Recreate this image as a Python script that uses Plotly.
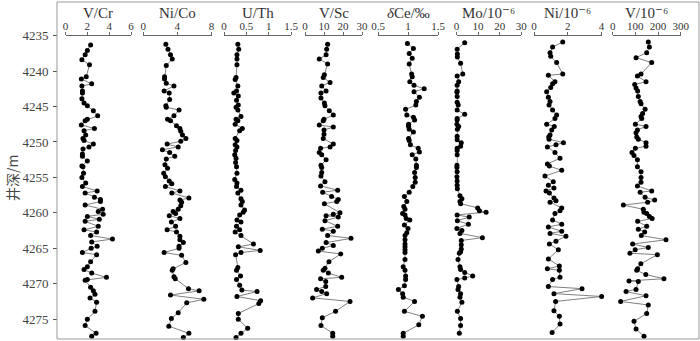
import plotly.graph_objects as go

# ---------------- data ----------------
vcr_depth = [4236.3, 4237.1, 4237.7, 4238.4, 4239.1, 4240.8, 4241.1, 4241.8, 4242.1, 4242.8,
             4243.1, 4243.9, 4244.5, 4244.9, 4245.6, 4246.3, 4246.8, 4247.0, 4247.6, 4248.1,
             4248.4, 4249.0, 4249.5, 4249.8, 4250.3, 4250.7, 4251.0, 4251.7, 4252.0, 4252.7,
             4253.4, 4253.5, 4254.4, 4255.0, 4255.8, 4256.3, 4256.9, 4257.2, 4257.8, 4258.1,
             4258.4, 4258.9, 4259.5, 4259.8, 4260.2, 4260.5, 4260.9, 4261.2, 4261.9, 4262.4,
             4262.7, 4263.2, 4263.7, 4264.1, 4264.7, 4265.0, 4265.6, 4265.9, 4266.9, 4267.6,
             4268.0, 4268.5, 4269.1, 4269.4, 4269.5, 4270.5, 4271.0, 4271.5, 4272.0, 4272.6,
             4273.9, 4275.0, 4275.9, 4277.0, 4277.4]
vcr = [2.3, 2.0, 1.8, 1.5, 2.2, 1.9, 1.45, 2.4, 1.5, 1.55,
       1.55, 1.5, 1.7, 2.0, 2.55, 2.95, 2.0, 1.8, 1.45, 2.65,
       1.7, 1.85, 1.6, 1.7, 2.55, 2.15, 1.6, 1.55, 1.55, 2.0,
       1.5, 1.6, 1.65, 1.5, 1.85, 1.55, 2.9, 1.8, 2.65, 3.2,
       3.2, 1.8, 3.4, 3.0, 3.45, 2.0, 3.1, 1.8, 3.0, 1.7,
       2.85, 2.3, 4.3, 2.4, 2.9, 2.35, 1.55, 2.85, 2.3, 2.0,
       1.7, 2.4, 3.75, 2.0, 1.8, 2.3, 2.55, 2.7, 2.25, 2.85,
       2.7, 2.0, 1.8, 2.8, 2.4]

nico_depth = [4236.2, 4236.9, 4237.7, 4238.3, 4239.2, 4240.8, 4241.1, 4241.7, 4242.1, 4242.8,
              4243.1, 4244.0, 4244.9, 4245.1, 4245.5, 4246.3, 4246.8, 4247.0, 4247.7, 4248.1,
              4248.5, 4249.0, 4249.5, 4249.9, 4250.3, 4250.7, 4251.1, 4251.5, 4252.0, 4252.4,
              4253.2, 4253.7, 4254.4, 4254.9, 4255.5, 4255.9, 4256.3, 4256.9, 4257.2, 4257.9,
              4258.2, 4258.5, 4259.0, 4259.5, 4259.8, 4260.1, 4260.4, 4260.8, 4261.3, 4261.9,
              4262.4, 4262.7, 4263.3, 4263.8, 4264.2, 4264.7, 4265.0, 4265.6, 4266.0, 4267.0,
              4267.9, 4268.1, 4269.0, 4269.3, 4270.7, 4271.0, 4271.6, 4272.2, 4272.7, 4274.1,
              4274.9, 4276.0, 4277.0, 4277.6]
nico = [2.65, 2.9, 3.2, 3.4, 2.7, 2.5, 2.5, 2.7, 3.6, 2.45,
        3.05, 3.1, 2.65, 2.7, 4.2, 3.6, 2.85, 3.2, 3.9, 4.3,
        4.4, 4.6, 5.0, 4.4, 2.8, 4.1, 2.25, 3.1, 3.7, 2.7,
        2.55, 2.85, 2.4, 2.6, 3.05, 3.35, 2.6, 4.3, 3.35, 5.35,
        4.3, 4.5, 4.4, 4.1, 3.5, 3.8, 3.05, 4.3, 3.3, 3.8,
        2.8, 3.9, 4.3, 4.3, 4.7, 4.2, 4.2, 2.45, 4.5, 5.0,
        3.5, 3.4, 3.6, 3.75, 5.3, 6.55, 3.2, 7.1, 5.1, 4.1,
        3.3, 3.0, 5.35, 4.7]

uth_depth = [4236.2, 4236.9, 4237.7, 4238.3, 4239.1, 4240.9, 4241.2, 4242.1, 4242.8, 4243.1,
             4243.5, 4244.1, 4244.8, 4245.1, 4245.5, 4246.4, 4246.8, 4247.0, 4247.5, 4248.1,
             4248.4, 4249.5, 4249.8, 4250.4, 4250.7, 4251.2, 4251.8, 4252.3, 4252.9, 4253.5,
             4254.4, 4255.3, 4255.8, 4256.3, 4256.8, 4257.2, 4258.0, 4258.4, 4258.9, 4259.6,
             4259.9, 4260.3, 4261.0, 4261.3, 4261.9, 4262.4, 4262.7, 4263.2, 4264.4, 4264.8,
             4265.3, 4265.6, 4265.9, 4267.7, 4268.1, 4268.9, 4269.4, 4270.2, 4270.9, 4271.1,
             4271.8, 4272.4, 4272.8, 4274.2, 4275.0, 4276.3, 4277.0, 4277.6]
uth = [0.31, 0.33, 0.29, 0.29, 0.29, 0.27, 0.25, 0.31, 0.28, 0.22,
       0.32, 0.28, 0.32, 0.27, 0.31, 0.38, 0.27, 0.31, 0.25, 0.41,
       0.35, 0.25, 0.29, 0.25, 0.29, 0.26, 0.24, 0.27, 0.26, 0.28,
       0.29, 0.24, 0.29, 0.28, 0.38, 0.31, 0.38, 0.41, 0.38, 0.46,
       0.43, 0.35, 0.29, 0.38, 0.28, 0.35, 0.25, 0.38, 0.66, 0.32,
       0.81, 0.38, 0.26, 0.31, 0.28, 0.37, 0.28, 0.35, 0.40, 0.74,
       0.29, 0.82, 0.78, 0.32, 0.32, 0.53, 0.38, 0.27]

vsc_depth = [4236.2, 4236.9, 4237.7, 4238.3, 4239.0, 4240.5, 4240.9, 4241.6, 4242.1, 4242.8,
             4243.1, 4243.8, 4244.5, 4244.9, 4245.6, 4246.2, 4246.8, 4247.0, 4247.6, 4247.9,
             4248.3, 4248.9, 4249.5, 4250.3, 4250.7, 4250.9, 4251.5, 4251.8, 4252.5, 4253.3,
             4253.6, 4254.3, 4254.8, 4255.6, 4256.2, 4256.8, 4257.1, 4257.7, 4258.1, 4258.4,
             4258.7, 4260.0, 4260.2, 4260.4, 4260.6, 4261.1, 4261.9, 4262.3, 4262.6, 4263.2,
             4263.6, 4264.2, 4264.6, 4265.0, 4265.4, 4265.8, 4266.9, 4267.8, 4268.1, 4268.5,
             4269.1, 4269.3, 4269.7, 4270.4, 4270.8, 4271.1, 4271.4, 4272.0, 4272.5, 4273.9,
             4274.8, 4275.9, 4277.0, 4277.4]
vsc = [11.9, 11.4, 11.1, 7.5, 11.9, 10.2, 9.6, 13.2, 8.8, 11.1,
       8.4, 8.4, 10.2, 10.5, 12.8, 14.9, 10.0, 9.6, 7.5, 14.9,
       10.0, 10.0, 9.6, 14.9, 13.2, 8.2, 7.5, 8.8, 11.1, 8.4,
       8.8, 8.8, 8.4, 10.5, 8.2, 17.2, 9.3, 14.0, 17.5, 16.7,
       10.2, 18.4, 14.9, 11.1, 17.5, 10.5, 17.2, 9.1, 14.9, 11.9,
       24.2, 11.1, 14.9, 9.1, 7.0, 18.8, 12.6, 10.5, 9.6, 12.3,
       19.3, 8.2, 10.9, 10.9, 6.1, 8.8, 11.4, 4.0, 23.7, 16.1,
       9.1, 8.4, 14.6, 14.6]

dce_depth = [4236.1, 4236.8, 4237.5, 4238.2, 4239.0, 4240.4, 4240.8, 4241.5, 4242.0, 4242.5,
             4242.9, 4243.7, 4244.3, 4244.8, 4245.4, 4246.2, 4246.5, 4246.9, 4247.5, 4247.8,
             4248.2, 4248.6, 4249.5, 4249.8, 4250.4, 4250.9, 4251.4, 4251.8, 4252.4, 4253.3,
             4253.6, 4254.3, 4255.0, 4255.7, 4256.3, 4257.1, 4257.7, 4258.4, 4259.1, 4259.5,
             4260.1, 4260.3, 4260.8, 4261.0, 4261.7, 4262.2, 4262.8, 4263.2, 4263.8, 4264.4,
             4264.8, 4265.2, 4265.6, 4266.6, 4267.6, 4268.1, 4268.9, 4269.4, 4270.3, 4270.8,
             4271.4, 4271.9, 4272.5, 4273.9, 4274.6, 4275.8, 4277.0, 4277.4]
dce = [0.99, 1.09, 1.02, 1.07, 1.02, 1.06, 1.07, 1.03, 1.10, 1.27,
       1.10, 1.19, 1.14, 1.13, 0.96, 0.98, 1.09, 1.11, 1.01, 1.01,
       1.02, 1.09, 1.01, 1.02, 1.04, 1.17, 1.19, 1.07, 1.13, 1.14,
       1.14, 1.11, 1.12, 1.12, 1.08, 1.02, 0.94, 0.98, 0.93, 0.95,
       0.91, 0.95, 0.97, 1.03, 0.94, 1.00, 0.98, 0.95, 0.95, 0.95,
       0.95, 0.95, 0.95, 0.95, 0.92, 0.95, 0.96, 0.96, 0.94, 0.84,
       0.91, 0.92, 1.11, 0.94, 1.24, 1.18, 0.92, 0.92]

mo_depth = [4236.0, 4236.9, 4237.6, 4238.0, 4238.9, 4240.4, 4240.7, 4241.5, 4242.0, 4242.8,
            4243.0, 4243.6, 4244.4, 4244.8, 4245.5, 4246.1, 4246.7, 4246.9, 4247.5, 4247.8,
            4248.2, 4249.2, 4249.7, 4250.1, 4250.6, 4250.9, 4251.2, 4251.8, 4253.3, 4253.6,
            4254.2, 4254.9, 4255.5, 4256.1, 4256.6, 4257.6, 4258.0, 4258.4, 4258.7, 4259.3,
            4259.7, 4259.9, 4260.3, 4260.6, 4261.1, 4261.6, 4262.2, 4262.5, 4262.9, 4263.5,
            4263.9, 4264.5, 4265.1, 4265.5, 4265.7, 4266.6, 4267.6, 4268.0, 4268.4, 4268.9,
            4269.2, 4269.4, 4270.4, 4270.8, 4271.4, 4271.9, 4272.6, 4273.9, 4274.9, 4275.9,
            4277.0]
mo = [3.8, 0.3, 0.4, 0.4, 1.9, 2.9, 0.3, 1.0, 0.3, 0.3,
      0.2, 0.3, 0.3, 0.8, 0.3, 3.8, 0.3, 0.3, 0.2, 1.0,
      0.4, 0.3, 0.3, 2.2, 1.9, 0.3, 0.3, 0.3, 0.2, 0.2,
      0.3, 0.2, 0.3, 0.3, 0.4, 1.6, 2.5, 1.6, 1.9, 9.8,
      10.6, 13.7, 0.3, 5.9, 0.4, 5.5, 0.2, 2.5, 1.6, 12.0,
      2.2, 2.2, 2.2, 1.9, 1.3, 0.7, 1.6, 1.9, 3.8, 7.5,
      3.8, 0.2, 1.0, 0.7, 1.9, 1.6, 2.5, 0.4, 1.9, 1.9,
      1.3]

ni_depth = [4235.9, 4236.6, 4237.4, 4237.9, 4238.8, 4240.4, 4240.6, 4241.5, 4241.8, 4242.3,
            4242.9, 4243.7, 4244.3, 4244.8, 4245.5, 4246.2, 4246.7, 4247.5, 4247.8, 4248.3,
            4249.0, 4249.3, 4249.6, 4250.1, 4250.4, 4250.7, 4251.5, 4252.3, 4253.1, 4253.4,
            4254.0, 4254.8, 4255.6, 4256.1, 4256.5, 4256.9, 4257.2, 4257.9, 4258.3, 4258.5,
            4259.3, 4259.7, 4260.1, 4261.0, 4261.6, 4262.0, 4262.6, 4262.9, 4263.3, 4264.0,
            4264.4, 4265.2, 4266.5, 4267.5, 4267.9, 4268.1, 4269.1, 4269.4, 4270.4, 4270.7,
            4271.4, 4271.8, 4272.5, 4273.8, 4274.6, 4275.7, 4276.9]
ni = [1.70, 1.10, 0.95, 0.99, 1.34, 1.70, 0.85, 1.24, 1.10, 0.99,
      0.75, 0.85, 0.95, 0.89, 1.10, 1.34, 1.24, 0.75, 1.20, 1.05,
      0.95, 0.87, 0.89, 1.74, 1.30, 0.79, 1.24, 1.54, 0.79, 0.91,
      1.64, 0.65, 1.14, 0.85, 1.18, 0.71, 0.91, 1.18, 1.30, 0.95,
      1.64, 1.54, 1.24, 1.10, 1.64, 0.85, 1.64, 0.95, 1.89, 1.30,
      0.91, 1.44, 0.85, 1.50, 0.79, 1.50, 1.54, 1.10, 0.85, 2.84,
      1.18, 4.0, 1.28, 1.18, 1.50, 1.54, 1.07]

v_depth = [4235.9, 4236.6, 4237.4, 4238.1, 4238.8, 4240.4, 4240.7, 4241.5, 4241.9, 4242.4,
           4242.8, 4243.6, 4244.3, 4244.6, 4245.4, 4246.0, 4246.4, 4246.7, 4247.5, 4247.8,
           4248.3, 4248.7, 4249.3, 4249.6, 4250.1, 4250.6, 4250.9, 4251.5, 4251.9, 4252.5,
           4253.5, 4254.2, 4255.0, 4255.7, 4256.2, 4256.9, 4257.1, 4257.8, 4258.2, 4258.5,
           4258.9, 4259.5, 4259.9, 4260.1, 4260.5, 4260.8, 4261.2, 4261.9, 4262.3, 4262.7,
           4263.2, 4263.8, 4264.4, 4264.9, 4265.2, 4265.7, 4265.9, 4267.2, 4267.9, 4268.1,
           4268.7, 4269.3, 4269.6, 4269.7, 4270.8, 4271.1, 4271.7, 4272.5, 4273.0, 4274.2,
           4275.3, 4276.4, 4277.4]
v = [157, 162, 150, 103, 172, 125, 109, 147, 97, 103,
     110, 113, 121, 125, 143, 132, 125, 128, 100, 147,
     109, 103, 106, 113, 147, 147, 100, 85, 94, 109,
     109, 125, 125, 125, 109, 172, 121, 143, 185, 154,
     47, 135, 138, 150, 162, 174, 110, 150, 113, 141,
     126, 235, 88, 157, 99, 76, 197, 124, 110, 106,
     146, 226, 72, 113, 103, 59, 147, 35, 157, 150,
     94, 103, 138]

titles = ["V/Cr", "Ni/Co", "U/Th", "V/Sc", "<i>δ</i>Ce/‰",
          "Mo/10⁻⁶", "Ni/10⁻⁶", "V/10⁻⁶"]
x_ranges = [[0, 6], [0, 8], [0, 1.5], [0, 30], [0.5, 1.5], [0, 30], [0, 4], [0, 300]]
x_tickvals = [[0, 2, 4, 6], [0, 4, 8], [0, 0.5, 1, 1.5], [0, 10, 20, 30],
              [0.5, 1, 1.5], [0, 10, 20, 30], [0, 2, 4], [0, 100, 200, 300]]
x_ticktext = [["0", "2", "4", "6"], ["0", "4", "8"], ["0", "0.5", "1", "1.5"],
              ["0", "10", "20", "30"], ["0.5", "1", "1.5"], ["0", "10", "20", "30"],
              ["0", "2", "4"], ["0", "100", "200", "300"]]
depth_ticks = [4235, 4240, 4245, 4250, 4255, 4260, 4265, 4270, 4275]
y_range = [4277.8, 4230.25]

series = [(vcr_depth, vcr), (nico_depth, nico), (uth_depth, uth), (vsc_depth, vsc),
          (dce_depth, dce), (mo_depth, mo), (ni_depth, ni), (v_depth, v)]

# ---------------- layout geometry (pixels) ----------------
W, H = 700, 341
ML, MR, MT, MB = 57, 1, 2, 2
PW = W - ML - MR
PH = H - MT - MB
panel_px = [(65.5, 131), (143.2, 211.5), (224, 291), (305, 362),
            (378, 438), (456.5, 521.3), (534, 601.6), (612.7, 680.7)]
axis_line_y = 34.5
title_y = 13

def px2paper_x(px):
    return (px - ML) / PW

def px2paper_y(py):
    return (H - MB - py) / PH

SERIF = "Liberation Serif, DejaVu Serif, serif"

fig = go.Figure()
layout = dict(
    width=W, height=H,
    margin=dict(l=ML, r=MR, t=MT, b=MB, autoexpand=False),
    paper_bgcolor="white", plot_bgcolor="white",
    showlegend=False,
    yaxis=dict(range=y_range, tickvals=depth_ticks, ticks="outside", ticklen=4,
               tickcolor="#555", showgrid=False, zeroline=False, showline=False,
               anchor="free", position=0, automargin=False, ticklabelstandoff=2,
               tickfont=dict(family=SERIF, size=13, color="#444")),
)
annotations = []
for i, ((dep, val), title) in enumerate(zip(series, titles)):
    ax = "x" if i == 0 else f"x{i+1}"
    key = "xaxis" if i == 0 else f"xaxis{i+1}"
    x0, x1 = panel_px[i]
    layout[key] = dict(
        domain=[px2paper_x(x0), px2paper_x(x1)], range=x_ranges[i],
        tickvals=x_tickvals[i], ticktext=x_ticktext[i],
        side="top", anchor="free", position=px2paper_y(axis_line_y),
        showline=True, linecolor="#666", linewidth=1,
        ticks="outside", ticklen=3, tickcolor="#666", automargin=False,
        ticklabelstandoff=-3,
        showgrid=False, zeroline=False,
        tickfont=dict(family=SERIF, size=11, color="#333"),
    )
    fig.add_trace(go.Scatter(
        x=val, y=dep, xaxis=ax, yaxis="y", mode="lines+markers",
        line=dict(color="#808080", width=1),
        marker=dict(color="black", size=5),
        cliponaxis=False, hoverinfo="skip",
    ))
    annotations.append(dict(
        text=title, xref="paper", yref="paper",
        x=px2paper_x((x0 + x1) / 2), y=px2paper_y(title_y),
        xanchor="center", yanchor="middle", showarrow=False,
        font=dict(family=SERIF, size=15, color="#333"),
    ))

annotations.append(dict(
    text="井深/m", xref="paper", yref="paper",
    x=px2paper_x(12), y=px2paper_y(178), textangle=-90,
    xanchor="center", yanchor="middle", showarrow=False,
    font=dict(family="Noto Sans CJK SC", size=14, color="#444"),
))
layout["annotations"] = annotations
layout["shapes"] = [dict(type="rect", xref="paper", yref="paper", x0=0, y0=0, x1=1, y1=1,
                         line=dict(color="#999", width=1), layer="above")]
fig.update_layout(**layout)
fig.write_html("out.html",
               config={"displayModeBar": False},
               post_script="document.body.style.margin='0';document.body.style.padding='0';")
